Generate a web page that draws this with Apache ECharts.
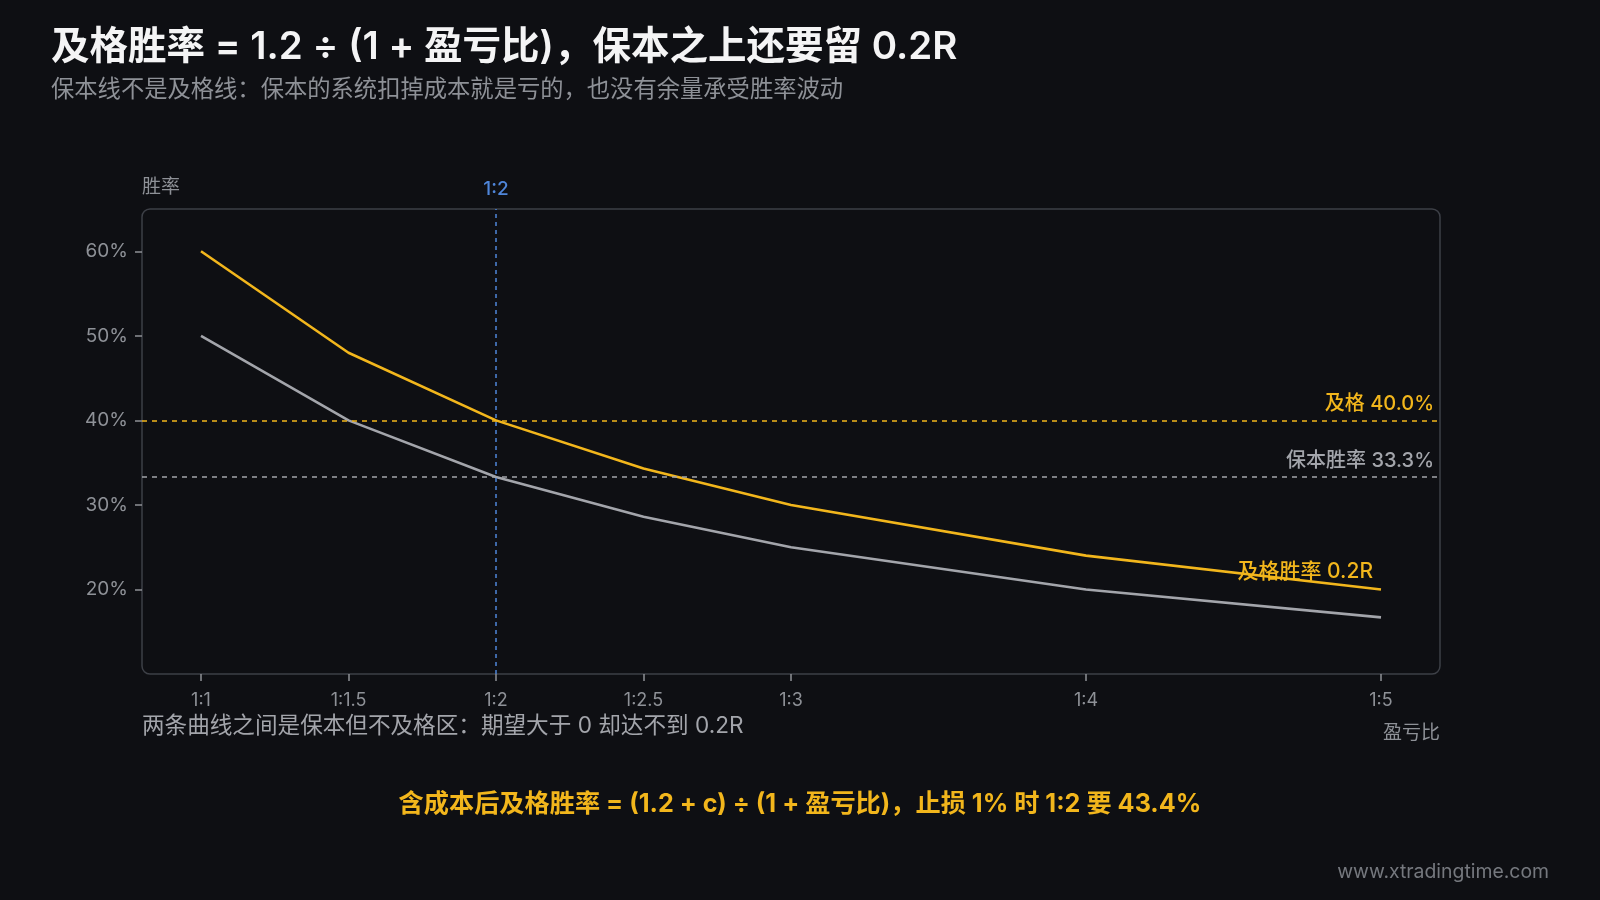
<!DOCTYPE html>
<html>
<head>
<meta charset="utf-8">
<title>及格胜率</title>
<script src="https://cdn.jsdelivr.net/npm/echarts@6/dist/echarts.min.js"></script>
<style>
  html, body { margin: 0; padding: 0; background: #0e0f13; }
  #chart { width: 1600px; height: 900px; }
</style>
</head>
<body>
<div id="chart"></div>
<script>
// 盈亏比 (1:R), 胜率 %
const ratios = [1, 1.5, 2, 2.5, 3, 4, 5];
const breakEven = [50, 40, 33.3, 28.6, 25, 20, 16.7];
const passRate = [60, 48, 40, 34.3, 30, 24, 20];
const yTicks = [20, 30, 40, 50, 60];
const passLine = 40;
const breakEvenLine = 33.3;
const focusRatio = 2;

const FONT = 'Inter, "Noto Sans CJK SC", "Noto Sans", sans-serif';
const YELLOW = '#f2b61c';
const GREY = '#a3a5ab';
const BLUE = '#4f86da';
const LABEL = '#8e9197';

const toPairs = (ys) => ratios.map((r, i) => [r, ys[i]]);

var myChart = echarts.init(document.getElementById('chart'));
var option = {
  backgroundColor: '#0e0f13',
  textStyle: { fontFamily: FONT },
  grid: {
    left: 142,
    right: 160,
    top: 209,
    bottom: 226
  },
  xAxis: {
    type: 'value',
    min: 0.8,
    max: 5.2,
    name: '盈亏比',
    nameLocation: 'end',
    nameGap: 0,
    nameTextStyle: {
      color: LABEL,
      fontSize: 19,
      align: 'right',
      verticalAlign: 'top',
      padding: [50, 0, 0, 0]
    },
    splitLine: { show: false },
    axisLine: { show: false },
    axisTick: {
      show: true,
      customValues: ratios,
      length: 7,
      lineStyle: { color: '#8e9197', width: 1.5 }
    },
    axisLabel: {
      customValues: ratios,
      color: LABEL,
      fontSize: 18,
      margin: 18,
      formatter: function (v) { return '1:' + v; }
    }
  },
  yAxis: {
    type: 'value',
    min: 10,
    max: 65,
    name: '胜率',
    nameLocation: 'end',
    nameGap: 22,
    nameTextStyle: {
      color: LABEL,
      fontSize: 19,
      align: 'left',
      verticalAlign: 'middle'
    },
    splitLine: { show: false },
    axisLine: { show: false },
    axisTick: {
      show: true,
      customValues: yTicks,
      length: 7,
      lineStyle: { color: '#8e9197', width: 1.5 }
    },
    axisLabel: {
      customValues: yTicks,
      color: LABEL,
      fontSize: 19,
      margin: 14,
      formatter: '{value}%'
    }
  },
  graphic: [
    {
      type: 'rect',
      silent: true,
      z: 0,
      shape: { x: 142, y: 209, width: 1298, height: 465, r: 8 },
      style: { fill: 'rgba(0,0,0,0)', stroke: '#3d4047', lineWidth: 1.5 }
    },
    {
      type: 'text',
      left: 51,
      top: 28,
      style: {
        text: '及格胜率 = 1.2 ÷ (1 + 盈亏比)，保本之上还要留 0.2R',
        fill: '#f4f4f5',
        font: '600 38.5px ' + FONT
      }
    },
    {
      type: 'text',
      left: 51,
      top: 78,
      style: {
        text: '保本线不是及格线：保本的系统扣掉成本就是亏的，也没有余量承受胜率波动',
        fill: '#8e9197',
        font: '23.3px ' + FONT
      }
    },
    {
      type: 'text',
      left: 142,
      top: 715,
      style: {
        text: '两条曲线之间是保本但不及格区：期望大于 0 却达不到 0.2R',
        fill: '#a3a5ab',
        font: '22.6px ' + FONT
      }
    },
    {
      type: 'text',
      left: 'center',
      top: 792,
      style: {
        text: '含成本后及格胜率 = (1.2 + c) ÷ (1 + 盈亏比)，止损 1% 时 1:2 要 43.4%',
        fill: YELLOW,
        font: 'bold 25.2px ' + FONT
      }
    },
    {
      type: 'text',
      right: 51,
      top: 862,
      style: {
        text: 'www.xtradingtime.com',
        fill: '#75787e',
        font: '19.4px ' + FONT
      }
    }
  ],
  series: [
    {
      name: '保本胜率',
      type: 'line',
      data: toPairs(breakEven),
      showSymbol: false,
      lineStyle: { color: GREY, width: 2.6 },
      itemStyle: { color: GREY },
      z: 3,
      markLine: {
        silent: true,
        symbol: 'none',
        lineStyle: { color: GREY, type: [5, 5], width: 1.5 },
        label: {
          position: 'insideEndTop',
          distance: 6,
          color: GREY,
          fontSize: 20,
          fontWeight: 500,
          formatter: '保本胜率 ' + breakEvenLine.toFixed(1) + '%'
        },
        data: [{ yAxis: breakEvenLine }]
      }
    },
    {
      name: '及格胜率',
      type: 'line',
      data: toPairs(passRate),
      showSymbol: false,
      lineStyle: { color: YELLOW, width: 2.6 },
      itemStyle: { color: YELLOW },
      z: 4,
      endLabel: {
        show: true,
        formatter: '及格胜率 0.2R',
        color: YELLOW,
        fontSize: 21,
        fontWeight: 500,
        align: 'right',
        verticalAlign: 'middle',
        offset: [-16, -18]
      },
      markLine: {
        silent: true,
        symbol: 'none',
        data: [
          {
            yAxis: passLine,
            lineStyle: { color: YELLOW, type: [5, 5], width: 1.5 },
            label: {
              position: 'insideEndTop',
              distance: 6,
              color: YELLOW,
              fontSize: 20,
              fontWeight: 500,
              formatter: '及格 ' + passLine.toFixed(1) + '%'
            }
          },
          {
            xAxis: focusRatio,
            lineStyle: { color: BLUE, type: [4, 4], width: 1.5 },
            label: {
              position: 'end',
              distance: 10,
              color: BLUE,
              fontSize: 19,
              fontWeight: 500,
              formatter: '1:' + focusRatio
            }
          }
        ]
      }
    }
  ]
};
myChart.setOption(option);
</script>
</body>
</html>
